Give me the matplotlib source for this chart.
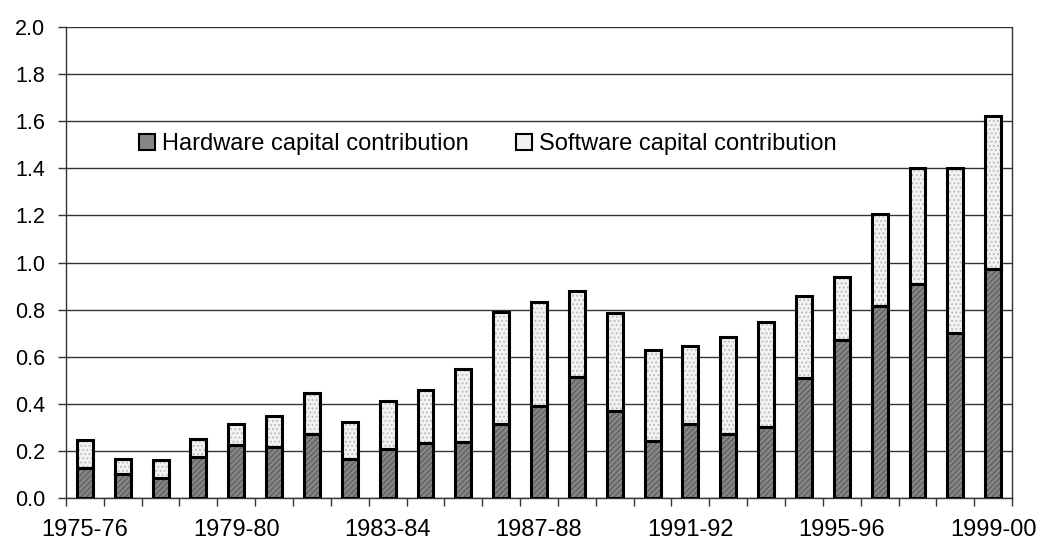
import matplotlib
matplotlib.use("Agg")
import matplotlib.pyplot as plt
from matplotlib.patches import Patch
import numpy as np

plt.rcParams['font.family'] = ['Liberation Sans', 'DejaVu Sans']
plt.rcParams['hatch.linewidth'] = 0.8

# Data
years = ["1975-76", "1976-77", "1977-78", "1978-79", "1979-80", "1980-81",
         "1981-82", "1982-83", "1983-84", "1984-85", "1985-86", "1986-87",
         "1987-88", "1988-89", "1989-90", "1990-91", "1991-92", "1992-93",
         "1993-94", "1994-95", "1995-96", "1996-97", "1997-98", "1998-99",
         "1999-00"]
hardware = [0.127, 0.102, 0.085, 0.175, 0.224, 0.215, 0.273, 0.167, 0.207,
            0.234, 0.238, 0.316, 0.391, 0.513, 0.371, 0.241, 0.314, 0.270,
            0.303, 0.511, 0.671, 0.815, 0.910, 0.699, 0.971]
total = [0.246, 0.166, 0.161, 0.249, 0.314, 0.347, 0.444, 0.323, 0.412,
         0.457, 0.547, 0.790, 0.834, 0.879, 0.784, 0.630, 0.644, 0.685,
         0.749, 0.858, 0.940, 1.206, 1.400, 1.400, 1.622]
software = [t - h for t, h in zip(total, hardware)]
labels_shown = ["1975-76", "1979-80", "1983-84", "1987-88", "1991-92",
                "1995-96", "1999-00"]

hw_face, hw_hatch = "#858585", "#5a5a5a"
sw_face, sw_hatch = "#f2f2f2", "#b8b8b8"

fig = plt.figure(figsize=(10.37, 5.42), dpi=100)
ax = fig.add_axes([0.0636, 0.0812, 0.9124, 0.8688])

x = np.arange(len(years))
w = 0.42

# fills with subtle hatching, then black outlines on top
ax.bar(x, hardware, w, color=hw_face, edgecolor=hw_hatch, hatch="//////",
       linewidth=0, zorder=3)
ax.bar(x, software, w, bottom=hardware, color=sw_face, edgecolor=sw_hatch,
       hatch="....", linewidth=0, zorder=3)
ax.bar(x, hardware, w, fill=False, edgecolor="black", linewidth=2.2, zorder=4)
ax.bar(x, software, w, bottom=hardware, fill=False, edgecolor="black",
       linewidth=2.2, zorder=4)

ax.set_xlim(-0.5, len(years) - 0.5)
ax.set_ylim(0, 2.0)
ax.set_yticks(np.arange(0, 2.01, 0.2))
ax.set_yticklabels([f"{v:.1f}" for v in np.arange(0, 2.01, 0.2)])
ax.yaxis.grid(True, color="#333333", linewidth=1.0, zorder=0)
ax.set_axisbelow(True)

ax.set_xticks([years.index(l) for l in labels_shown])
ax.set_xticklabels(labels_shown)
ax.set_xticks(np.arange(-0.5, len(years), 1.0), minor=True)
ax.tick_params(axis="x", which="major", length=0, pad=15, labelsize=17)
ax.tick_params(axis="x", which="minor", length=6, width=1.0, color="#333333")
ax.tick_params(axis="y", length=6, width=1.0, color="#333333", pad=9,
               labelsize=15.5)

for s in ["left", "right", "bottom"]:
    ax.spines[s].set_color("#333333")
    ax.spines[s].set_linewidth(1.0)
ax.spines["top"].set_visible(False)

handles = [Patch(facecolor=hw_face, edgecolor="black", linewidth=1.5),
           Patch(facecolor=sw_face, edgecolor="black", linewidth=1.5)]
ax.legend(handles, ["Hardware capital contribution",
                    "Software capital contribution"],
          loc="center left", bbox_to_anchor=(0.0772, 0.7516), ncol=2,
          frameon=False, fontsize=17, handlelength=0.68, handleheight=0.68,
          handletextpad=0.3, columnspacing=2.0, borderpad=0,
          borderaxespad=0)

fig.savefig("out.png", dpi=100)
